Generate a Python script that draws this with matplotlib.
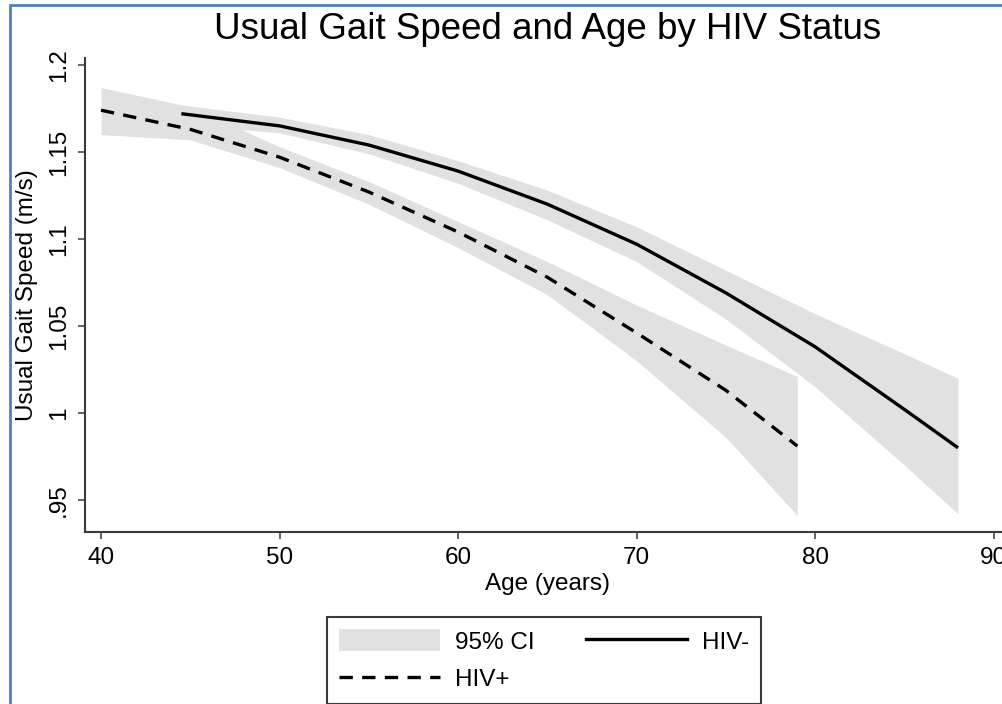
import matplotlib
matplotlib.use("Agg")
import matplotlib.pyplot as plt
from matplotlib.patches import Patch, Rectangle
from matplotlib.lines import Line2D

plt.rcParams['font.family'] = ['Liberation Sans', 'DejaVu Sans']

# predicted usual gait speed (m/s) by age, with 95% CI
hivpos_age = [40, 45, 50, 55, 60, 65, 70, 75, 79]
hivpos_speed = [1.174, 1.163, 1.147, 1.127, 1.104, 1.078, 1.046, 1.013, 0.981]
hivpos_lo = [1.160, 1.157, 1.141, 1.120, 1.095, 1.068, 1.030, 0.986, 0.941]
hivpos_hi = [1.187, 1.176, 1.153, 1.133, 1.110, 1.087, 1.062, 1.039, 1.021]

hivneg_age = [44.5, 50, 55, 60, 65, 70, 75, 80, 85, 88]
hivneg_speed = [1.172, 1.165, 1.154, 1.139, 1.120, 1.097, 1.069, 1.038, 1.002, 0.980]
hivneg_lo = [1.166, 1.161, 1.149, 1.132, 1.111, 1.087, 1.054, 1.015, 0.970, 0.942]
hivneg_hi = [1.177, 1.170, 1.160, 1.145, 1.128, 1.107, 1.082, 1.057, 1.034, 1.020]

xticks = [40, 50, 60, 70, 80, 90]
yticks = [0.95, 1.0, 1.05, 1.1, 1.15, 1.2]
ytick_labels = ['.95', '1', '1.05', '1.1', '1.15', '1.2']

band_color = '#e1e1e1'
axis_color = '#3a3a3a'
fs = 17.5

fig = plt.figure(figsize=(10.02, 7.04), dpi=100)
ax = fig.add_axes([0.0848, 0.2443, 0.923, 0.6733])

ax.fill_between(hivpos_age, hivpos_lo, hivpos_hi, color=band_color, lw=0)
ax.fill_between(hivneg_age, hivneg_lo, hivneg_hi, color=band_color, lw=0)
ax.plot(hivneg_age, hivneg_speed, color='black', lw=2.4, solid_capstyle='butt')
ax.plot(hivpos_age, hivpos_speed, color='black', lw=2.4, dashes=(4, 2.8))

ax.set_xlim(39.1, 90.9)
ax.set_ylim(0.9316, 1.204)
ax.set_xticks(xticks)
ax.set_yticks(yticks)
ax.set_yticklabels(ytick_labels, rotation=90, va='center')

for side in ['top', 'right']:
    ax.spines[side].set_visible(False)
for side in ['left', 'bottom']:
    ax.spines[side].set_color(axis_color)
    ax.spines[side].set_linewidth(1.5)
ax.tick_params(length=5, width=1.1, color=axis_color, labelsize=fs, pad=6)

ax.set_xlabel('Age (years)', fontsize=fs, labelpad=3)
ax.set_ylabel('Usual Gait Speed (m/s)', fontsize=fs, labelpad=7)
ax.set_title('Usual Gait Speed and Age by HIV Status', fontsize=26.5, pad=14)

handles = [
    Patch(facecolor=band_color, edgecolor='none', label='95% CI'),
    Line2D([], [], color='black', lw=2.4, dashes=(4, 2.8), label='HIV+'),
    Line2D([], [], color='black', lw=2.4, label='HIV-'),
]
leg = fig.legend(handles=handles, ncol=2, loc='upper left',
                 bbox_to_anchor=(327 / 1002, 1 - 617 / 704),
                 bbox_transform=fig.transFigure, borderaxespad=0,
                 fontsize=fs, frameon=True, fancybox=False, framealpha=1,
                 handlelength=4.15, handleheight=1.03, handletextpad=0.62,
                 columnspacing=2.1, labelspacing=0.55, borderpad=0.5)
leg.get_frame().set_edgecolor(axis_color)
leg.get_frame().set_linewidth(1.5)

# outer frame around the graph region
fig.add_artist(Rectangle((9.5 / 1002, -0.1), 1.2, 1.1 - 5 / 704,
                         transform=fig.transFigure, fill=False,
                         edgecolor='#4f81bd', lw=2))

fig.savefig('out.png', dpi=100)
